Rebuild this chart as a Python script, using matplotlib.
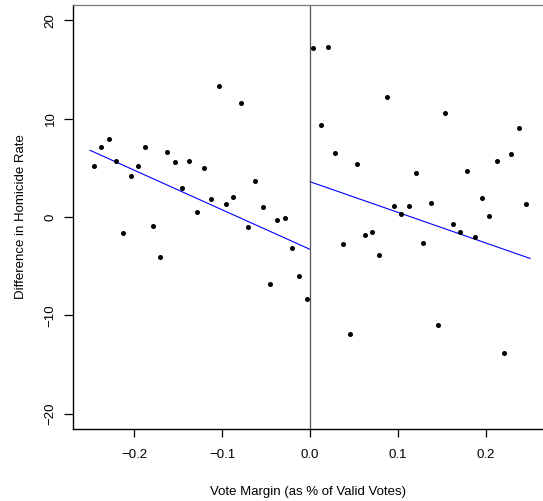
import numpy as np
import matplotlib
matplotlib.use('Agg')
import matplotlib.pyplot as plt

plt.rcParams['font.family'] = ['Liberation Sans', 'DejaVu Sans']

# left of the cutoff (losers)
x_left = [-0.2455, -0.2372, -0.2288, -0.2205, -0.2122, -0.2038, -0.1955, -0.1872,
          -0.1788, -0.1705, -0.1622, -0.1538, -0.1455, -0.1372, -0.1288, -0.1205,
          -0.1122, -0.1038, -0.0955, -0.0872, -0.0788, -0.0705, -0.0622, -0.0538,
          -0.0455, -0.0372, -0.0288, -0.0205, -0.0122, -0.0038]
y_left = [5.19, 7.12, 7.97, 5.70, -1.66, 4.17, 5.19, 7.12,
          -0.92, -4.07, 6.64, 5.56, 2.98, 5.67, 0.51, 4.98,
          1.83, 13.30, 1.32, 2.07, 11.57, -1.05, 3.69, 1.02,
          -6.85, -0.34, -0.07, -3.12, -5.97, -8.37]

# right of the cutoff (winners)
x_right = [0.0038, 0.0122, 0.0205, 0.0288, 0.0372, 0.0455, 0.0538, 0.0622,
           0.0705, 0.0788, 0.0872, 0.0955, 0.1038, 0.1122, 0.1205, 0.1288,
           0.1372, 0.1455, 0.1538, 0.1622, 0.1705, 0.1788, 0.1872, 0.1955,
           0.2038, 0.2122, 0.2205, 0.2288, 0.2372, 0.2455]
y_right = [17.22, 9.33, 17.32, 6.54, -2.75, -11.87, 5.42, -1.80,
           -1.56, -3.90, 12.24, 1.15, 0.27, 1.15, 4.51, -2.61,
           1.45, -11.02, 10.55, -0.71, -1.56, 4.68, -2.00, 1.93,
           0.13, 5.70, -13.80, 6.41, 9.02, 1.29]

# fitted lines (intercept at the cutoff, slope)
fit_left = (-3.29, -40.3)
fit_right = (3.59, -31.2)
left_span = (-0.25, 0.0)
right_span = (0.0, 0.25)

xticks = [-0.2, -0.1, 0.0, 0.1, 0.2]
xtick_labels = ['\u22120.2', '\u22120.1', '0.0', '0.1', '0.2']
yticks = [-20, -10, 0, 10, 20]
ytick_labels = ['\u221220', '\u221210', '0', '10', '20']

fig = plt.figure(figsize=(5.43, 5.01), dpi=100)
ax = fig.add_axes([0.1339, 0.1431, 0.8661, 0.8475])

ax.scatter(x_left, y_left, s=13, color='black', zorder=3, linewidths=0)
ax.scatter(x_right, y_right, s=13, color='black', zorder=3, linewidths=0)

xs = np.array(left_span)
ax.plot(xs, fit_left[0] + fit_left[1] * xs, color='#0000ff', lw=0.8)
xs = np.array(right_span)
ax.plot(xs, fit_right[0] + fit_right[1] * xs, color='#0000ff', lw=0.8)

ax.axvline(0, color='#555555', lw=0.9)

ax.set_xlim(-0.2697, 0.2648)
ax.set_ylim(-21.6, 21.6)

ax.set_xticks(xticks)
ax.set_xticklabels(xtick_labels)
ax.set_yticks(yticks)
ax.set_yticklabels(ytick_labels, rotation=90, va='center')
ax.tick_params(axis='x', length=5.5, width=0.9, labelsize=9.5, pad=9)
ax.tick_params(axis='y', length=6.5, width=0.9, labelsize=9.5, pad=5)

for side in ['left', 'bottom']:
    ax.spines[side].set_linewidth(1.0)
    ax.spines[side].set_color('black')
ax.spines['top'].set_color('#777777')
ax.spines['top'].set_linewidth(0.9)
ax.spines['right'].set_visible(False)

ax.set_xlabel('Vote Margin (as % of Valid Votes)', fontsize=9.5, labelpad=17.5)
ax.set_ylabel('Difference in Homicide Rate', fontsize=9.5, labelpad=13)

fig.savefig('out.png', dpi=100)
